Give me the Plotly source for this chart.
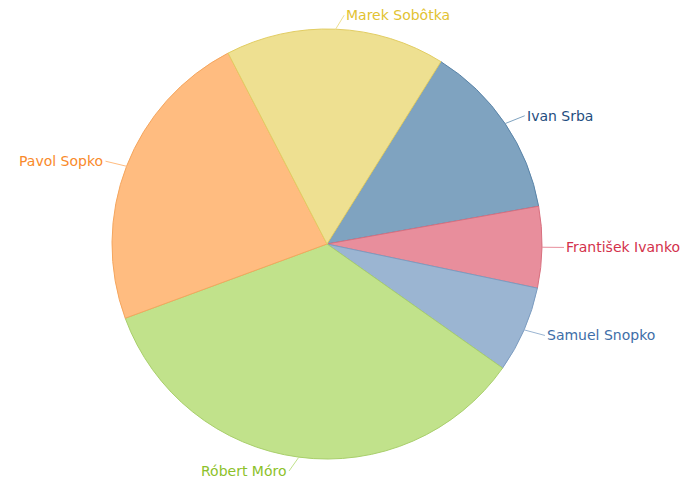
import math
import plotly.graph_objects as go

labels = ["Ivan Srba", "František Ivanko", "Samuel Snopko", "Róbert Móro", "Pavol Sopko", "Marek Sobôtka"]
values = [13.3, 6.1, 6.5, 34.6, 23.0, 16.5]
fill_colors = ["#7FA3C0", "#E88E9C", "#9BB5D2", "#C1E28B", "#FFBC80", "#EEE091"]
line_colors = ["#5A84A8", "#D8707F", "#7C9CC0", "#A9CF6C", "#F5A65E", "#E2CD63"]
text_colors = ["#1F4E80", "#D3314B", "#3E6EA8", "#8CC12A", "#F98A2A", "#E2C232"]
lead_colors = ["#7FA3C0", "#E88E9C", "#9BB5D2", "#C1E28B", "#FFBC80", "#EEE091"]

W, H = 682, 480
CX, CY, R = 327, 244, 215
START = 32

fig = go.Figure(go.Pie(
    labels=labels, values=values, sort=False, direction="clockwise", rotation=START,
    marker=dict(colors=fill_colors, line=dict(color=line_colors, width=1)),
    textinfo="none", hoverinfo="label+percent", showlegend=False,
    domain=dict(x=[(CX - R) / W, (CX + R) / W], y=[(H - CY - R) / H, (H - CY + R) / H]),
))

total = sum(values)
cum = 0
for lab, v, tc, lc in zip(labels, values, text_colors, lead_colors):
    mid = START + (cum + v / 2) / total * 360
    cum += v
    t = math.radians(mid)
    s, c = math.sin(t), math.cos(t)
    px = CX + R * s
    py = CY - R * c
    sign = 1 if s >= 0 else -1
    ax = 14 * s + sign * 8
    ay = -14 * c
    fig.add_annotation(
        x=px / W, y=1 - py / H, xref="paper", yref="paper",
        text=lab, showarrow=True, arrowhead=0, arrowwidth=1, arrowcolor=lc,
        ax=ax, ay=ay, standoff=0, startstandoff=0,
        xanchor="left" if sign > 0 else "right", yanchor="middle",
        font=dict(family="DejaVu Sans", size=14, color=tc), borderpad=1,
    )

fig.update_layout(
    width=W, height=H, margin=dict(l=0, r=0, t=0, b=0),
    paper_bgcolor="white", plot_bgcolor="white",
)
fig.write_html(
    "out.html",
    config={"displayModeBar": False},
    post_script="document.body.style.margin='0';document.body.style.overflow='hidden';",
)
